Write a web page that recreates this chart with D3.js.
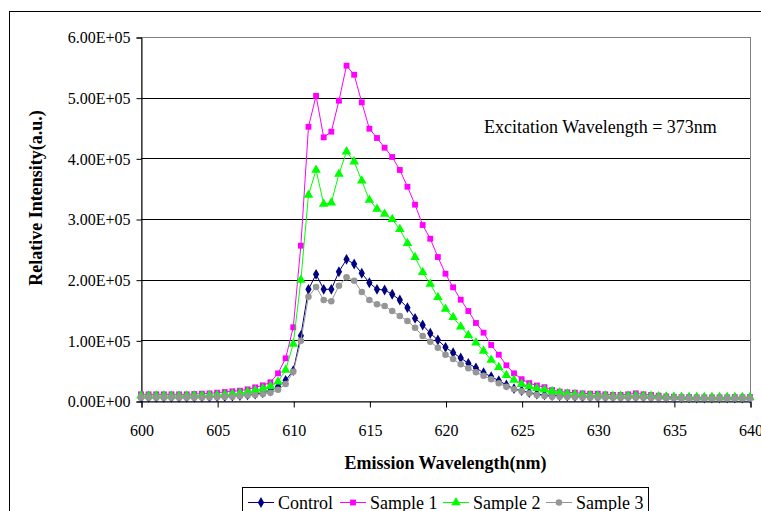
<!DOCTYPE html>
<html>
<head>
    <title></title>
    <script src="https://d3js.org/d3.v7.min.js"></script>
    <style>
        body { margin: 0; background: #fff; }
    </style>
</head>
<body>

    <svg id="chart" width="761" height="511"></svg>

    <script>

    // emission wavelength (nm), one reading every 0.5 nm
    var wl = [600, 600.5, 601, 601.5, 602, 602.5, 603, 603.5, 604, 604.5,
              605, 605.5, 606, 606.5, 607, 607.5, 608, 608.5, 609, 609.5,
              610, 610.5, 611, 611.5, 612, 612.5, 613, 613.5, 614, 614.5,
              615, 615.5, 616, 616.5, 617, 617.5, 618, 618.5, 619, 619.5,
              620, 620.5, 621, 621.5, 622, 622.5, 623, 623.5, 624, 624.5,
              625, 625.5, 626, 626.5, 627, 627.5, 628, 628.5, 629, 629.5,
              630, 630.5, 631, 631.5, 632, 632.5, 633, 633.5, 634, 634.5,
              635, 635.5, 636, 636.5, 637, 637.5, 638, 638.5, 639, 639.5, 640];

    var control = [6000, 6000, 6000, 6000, 6000, 6000, 6000, 6200, 6400, 6600,
                   7000, 7500, 8000, 9000, 10000, 11500, 13500, 16500, 23600, 34000,
                   50000, 107600, 184100, 208800, 184100, 184100, 213100, 233500, 225800, 210500,
                   195000, 184100, 183000, 175900, 166500, 153800, 136300, 125300, 111600, 100500,
                   88500, 79600, 70900, 62100, 54400, 46600, 40100, 33500, 26400, 20300,
                   17000, 14000, 11500, 10000, 9000, 8500, 8000, 7500, 7000, 7000,
                   6800, 6500, 6500, 6300, 6500, 7000, 6500, 6200, 6000, 5800,
                   5500, 5300, 5200, 5000, 5000, 5000, 5000, 5000, 5000, 5000, 5000];

    var sample1 = [11000, 11000, 11000, 11000, 11000, 11000, 11000, 11500, 12000, 12500,
                   13700, 14800, 16000, 17000, 19200, 22500, 25800, 30800, 45600, 70400,
                   121500, 256000, 452000, 503000, 434600, 443900, 495000, 552700, 537800, 492300,
                   448800, 433500, 417500, 402200, 380800, 353200, 323600, 290100, 267500, 237300,
                   209800, 187400, 167000, 148300, 128600, 112600, 92300, 76300, 58800, 45600,
                   36000, 29500, 25500, 22800, 18000, 15500, 14300, 13700, 12600, 12000,
                   12000, 11000, 10000, 10000, 11000, 12600, 11000, 9900, 8800, 7500,
                   7000, 6500, 6500, 6000, 6000, 6000, 6000, 6000, 6500, 6000, 6500];

    var sample2 = [8500, 8500, 8500, 8500, 8500, 8500, 8500, 9000, 9000, 9500,
                   10000, 10500, 11500, 13000, 15000, 17500, 20500, 24500, 31800, 51100,
                   94000, 199400, 339500, 380800, 324700, 326800, 374200, 411000, 394500, 363100,
                   331300, 316500, 308200, 299500, 283000, 259900, 236900, 212100, 192800, 170900,
                   151600, 138000, 122500, 108300, 96100, 82400, 67600, 55500, 42400, 34600,
                   27800, 23800, 21000, 18500, 16000, 14000, 12000, 11000, 10000, 9500,
                   9000, 8500, 8000, 8000, 8500, 9000, 8500, 8000, 7500, 7000,
                   6500, 6200, 6000, 6000, 6000, 6000, 6000, 6000, 6000, 6000, 6000];

    var sample3 = [5500, 5500, 5500, 5500, 5500, 5500, 5500, 5500, 5600, 5800,
                   6000, 6500, 7000, 8000, 9000, 10000, 11500, 13700, 18500, 28000,
                   48300, 99400, 171900, 187900, 166500, 164300, 190000, 203900, 198300, 179700,
                   166500, 159400, 156600, 148300, 140100, 131900, 120800, 107100, 97700, 87900,
                   76300, 69200, 60500, 53900, 47300, 41700, 35800, 29200, 23600, 19300,
                   16000, 12700, 9900, 8200, 7100, 7000, 6500, 6000, 5800, 5500,
                   5500, 5300, 5200, 5000, 5200, 5500, 5200, 5000, 4800, 4500,
                   4500, 4300, 4200, 4000, 4000, 4000, 4000, 4000, 4000, 4000, 4000];

    var seriesNames = ["Control", "Sample 1", "Sample 2", "Sample 3"];
    var seriesColors = ["#000080", "#ff00ff", "#00ff00", "#969696"];
    var seriesShapes = [d3.symbolDiamond, d3.symbolSquare, d3.symbolTriangle, d3.symbolCircle];
    var seriesData = [control, sample1, sample2, sample3];

    var yTicks = [0, 100000, 200000, 300000, 400000, 500000, 600000];
    var xTicks = [600, 605, 610, 615, 620, 625, 630, 635, 640];

    var FONT = "'Liberation Serif', 'Times New Roman', serif";

    var L = 141, R = 750, T = 37, B = 401;
    var xSc = d3.scaleLinear().domain([600, 640]).range([L, R]);
    var ySc = d3.scaleLinear().domain([0, 600000]).range([B, T]);

    var svg = d3.select("#chart");

    // outer chart frame
    svg.append("rect").attr("x", 9.5).attr("y", 11.5).attr("width", 800).attr("height", 600)
        .attr("fill", "none").attr("stroke", "#000");

    // plot area border (grey)
    svg.append("rect").attr("x", L + 0.5).attr("y", T + 0.5)
        .attr("width", R - L).attr("height", B - T)
        .attr("fill", "none").attr("stroke", "#808080");

    // horizontal gridlines
    svg.append("g").selectAll("line")
        .data(yTicks.filter(d => d > 0 && d < 600000)).enter().append("line")
        .attr("x1", L).attr("x2", R)
        .attr("y1", d => Math.round(ySc(d)) + 0.5).attr("y2", d => Math.round(ySc(d)) + 0.5)
        .attr("stroke", "#000");

    // y axis
    var yAx = d3.axisLeft(ySc).tickValues(yTicks).tickSizeOuter(0).tickSize(5).tickPadding(6)
        .tickFormat(d => d3.format(".2e")(d).replace("e", "E").replace(/E([+-])(\d)$/, "E$10$2"));
    var gy = svg.append("g").attr("transform", "translate(" + (L + 0.5) + ",0.5)").call(yAx);
    gy.selectAll("text").attr("dy", "0.34em");

    // x axis
    var xAx = d3.axisBottom(xSc).tickValues(xTicks).tickSizeOuter(0).tickSize(6).tickPadding(17)
        .tickFormat(d3.format("d"));
    var gx = svg.append("g").attr("transform", "translate(0.5," + (B + 0.5) + ")").call(xAx);
    svg.selectAll(".domain").attr("stroke", "#000");
    svg.selectAll(".tick line").attr("stroke", "#000");
    svg.selectAll(".tick text").style("font-family", FONT).style("font-size", "16px").attr("fill", "#000");

    // series lines and markers
    var lnMkr = d3.line().x((d, i) => xSc(wl[i])).y(d => ySc(d));
    seriesData.forEach(function (vals, k) {
        var g = svg.append("g");
        g.append("path").attr("d", lnMkr(vals))
            .attr("fill", "none").attr("stroke", seriesColors[k]).attr("stroke-width", 1);
        var sym = d3.symbol().type(seriesShapes[k]).size(k === 2 ? 40 : 34);
        g.selectAll("path.m").data(vals).enter().append("path").attr("class", "m")
            .attr("d", sym)
            .attr("transform", (d, i) => "translate(" + xSc(wl[i]) + "," + ySc(d) + ")")
            .attr("fill", seriesColors[k]).attr("stroke", "none");
    });

    // axis titles
    var big = svg.append("g").style("font-family", FONT).style("font-size", "18px").attr("fill", "#000");
    big.append("text").attr("x", (L + R) / 2).attr("y", 469).attr("text-anchor", "middle")
        .style("font-weight", "bold").text("Emission Wavelength(nm)");
    big.append("text").attr("transform", "translate(42,198) rotate(-90)").attr("text-anchor", "middle")
        .style("font-weight", "bold").text("Relative Intensity(a.u.)");

    // annotation
    big.append("text").attr("x", 484).attr("y", 133).text("Excitation Wavelength = 373nm");

    // legend
    var lg = svg.append("g");
    lg.append("rect").attr("x", 242.5).attr("y", 487.5).attr("width", 406).attr("height", 40)
        .attr("fill", "#fff").attr("stroke", "#000");
    var lgX = [248, 340, 443, 546];
    seriesNames.forEach(function (name, k) {
        var x0 = lgX[k];
        lg.append("line").attr("x1", x0).attr("x2", x0 + 26).attr("y1", 502.5).attr("y2", 502.5)
            .attr("stroke", seriesColors[k]);
        lg.append("path").attr("d", d3.symbol().type(seriesShapes[k]).size(k === 2 ? 40 : 34))
            .attr("transform", "translate(" + (x0 + 13) + ",502.5)").attr("fill", seriesColors[k]);
        lg.append("text").attr("x", x0 + 30).attr("y", 509)
            .style("font-family", FONT).style("font-size", "18px").attr("fill", "#000").text(name);
    });
    </script>

</body></html>
